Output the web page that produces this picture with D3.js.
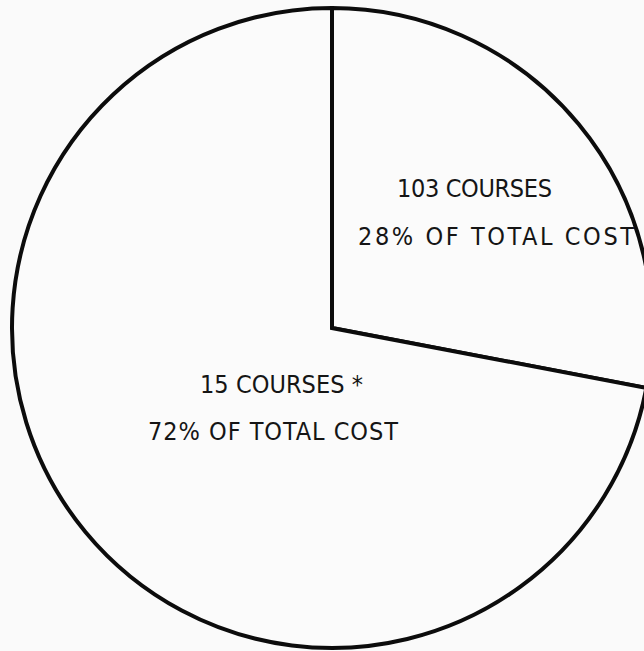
<!DOCTYPE html>
<html lang="en">
<head>
<meta charset="UTF-8">
<script src="https://d3js.org/d3.v7.min.js"></script>
<title>Course cost share</title>
<style>
  body { margin: 0; background: #fafafa; }
  svg { display: block; }
  .lbl { font-family: "DejaVu Sans Condensed", "DejaVu Sans", sans-serif; font-size: 25px; fill: #151515; }
</style>
</head>
<body>
<div id="chart"></div>
<script>
// data
var groups = ['103 COURSES', '15 COURSES *']
var shares = [28, 72]
var shareText = ['28% OF TOTAL COST', '72% OF TOTAL COST']

var largura = 644, altura = 651
var cx = 332, cy = 328, raio = 320

var svg = d3.select('#chart').append('svg')
  .attr('width', largura)
  .attr('height', altura)

var pie = d3.pie().sort(null).value(d => d)
var arc = d3.arc().innerRadius(0).outerRadius(raio)

var g = svg.append('g').attr('transform', `translate(${cx},${cy})`)

g.selectAll('path')
  .data(pie(shares))
  .enter()
  .append('path')
  .attr('d', arc)
  .attr('fill', '#fbfbfb')
  .attr('stroke', '#0c0c0c')
  .attr('stroke-width', 4)
  .attr('stroke-linejoin', 'miter')

// label placement (x of line start, baselines, widths) relative to the centre
var lblPos = [
  { x1: 65, y1: -131, w1: 155, x2: 26, y2: -83, w2: 276 },
  { x1: -132, y1: 65, w1: 163, x2: -184, y2: 112, w2: 250 }
]

groups.forEach(function (nome, i) {
  var p = lblPos[i]
  g.append('text').attr('class', 'lbl')
    .attr('x', p.x1).attr('y', p.y1)
    .attr('textLength', p.w1).attr('lengthAdjust', 'spacing')
    .text(nome)
  g.append('text').attr('class', 'lbl')
    .attr('x', p.x2).attr('y', p.y2)
    .attr('textLength', p.w2).attr('lengthAdjust', 'spacing')
    .text(shareText[i])
})
</script>
</body>
</html>
